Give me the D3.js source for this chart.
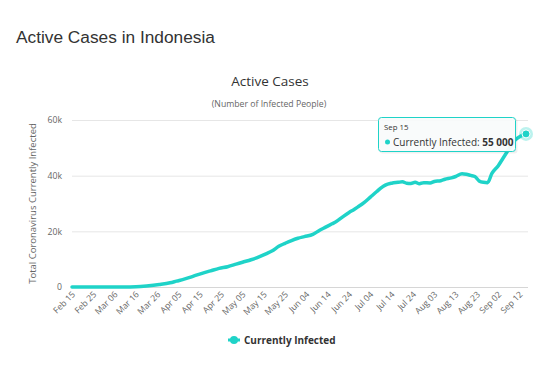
<!DOCTYPE html>
<html>
<head>
<meta charset="utf-8">
<script src="https://cdn.jsdelivr.net/npm/d3@7"></script>
<style>
  body { margin: 0; background: #fff; }
  svg { display: block; }
</style>
</head>
<body>
<div id="chart"></div>
<script>
// active cases
const dates = [
  "2020-02-15", "2020-03-01", "2020-03-10", "2020-03-16", "2020-03-21", "2020-03-27",
  "2020-04-01", "2020-04-04", "2020-04-08", "2020-04-12", "2020-04-16", "2020-04-20",
  "2020-04-24", "2020-04-28", "2020-05-02", "2020-05-05", "2020-05-09", "2020-05-13",
  "2020-05-16", "2020-05-19", "2020-05-22", "2020-05-25", "2020-05-28", "2020-05-31",
  "2020-06-03", "2020-06-07", "2020-06-10", "2020-06-13", "2020-06-16", "2020-06-18",
  "2020-06-21", "2020-06-24", "2020-06-26", "2020-06-28", "2020-07-01", "2020-07-04",
  "2020-07-07", "2020-07-09", "2020-07-11", "2020-07-14", "2020-07-17", "2020-07-19",
  "2020-07-21", "2020-07-23", "2020-07-25", "2020-07-27", "2020-07-29", "2020-08-01",
  "2020-08-03", "2020-08-06", "2020-08-08", "2020-08-11", "2020-08-13", "2020-08-16",
  "2020-08-18", "2020-08-20", "2020-08-22", "2020-08-24", "2020-08-26", "2020-08-28",
  "2020-08-30", "2020-09-02", "2020-09-04", "2020-09-06", "2020-09-08", "2020-09-10",
  "2020-09-12", "2020-09-14", "2020-09-15"
];
const infected = [
  0, 0, 20, 120, 400, 900,
  1500, 2100, 2900, 3900, 4900, 5800,
  6700, 7300, 8200, 8900, 9800, 10900,
  11900, 13000, 14600, 15700, 16700, 17500,
  18100, 18900, 20300, 21500, 22700, 23500,
  25200, 26800, 27700, 28700, 30300, 32300,
  34300, 35600, 36600, 37300, 37600, 37800,
  37300, 37200, 37600, 37100, 37500, 37400,
  37900, 38200, 38700, 39200, 39700, 40700,
  40500, 40100, 39700, 38100, 37600, 37500,
  40800, 43600, 46000, 48400, 50800, 52900,
  54000, 54800, 55000
];
const xTicks = [
  "2020-02-15", "2020-02-25", "2020-03-06", "2020-03-16", "2020-03-26", "2020-04-05",
  "2020-04-15", "2020-04-25", "2020-05-05", "2020-05-15", "2020-05-25", "2020-06-04",
  "2020-06-14", "2020-06-24", "2020-07-04", "2020-07-14", "2020-07-24", "2020-08-03",
  "2020-08-13", "2020-08-23", "2020-09-02", "2020-09-12"
];
const yTicks = [0, 20000, 40000, 60000];

const parse = d3.timeParse("%Y-%m-%d");
const data = dates.map((d, i) => ({ date: parse(d), value: infected[i] }));

const width = 540, height = 372;
const margin = { top: 120, right: 12, bottom: 85, left: 72 };
const color = "#1fd3c8";
const font = "'Open Sans', sans-serif";

const svg = d3.select("#chart").append("svg")
  .attr("width", width)
  .attr("height", height)
  .attr("viewBox", [0, 0, width, height]);

svg.append("rect").attr("width", width).attr("height", height).attr("fill", "#fff");

// page heading
svg.append("text")
  .attr("x", 16).attr("y", 43)
  .attr("font-family", "'Liberation Sans', Arial, sans-serif")
  .attr("font-size", 17.3)
  .attr("fill", "#333")
  .text("Active Cases in Indonesia");

svg.append("text")
  .attr("x", width / 2).attr("y", 86)
  .attr("text-anchor", "middle")
  .attr("font-family", font)
  .attr("font-size", 13.5)
  .attr("fill", "#333")
  .text("Active Cases");

svg.append("text")
  .attr("x", width / 2 - 1).attr("y", 107)
  .attr("text-anchor", "middle")
  .attr("font-family", font)
  .attr("font-size", 8.7)
  .attr("fill", "#666")
  .text("(Number of Infected People)");

const x = d3.scaleTime()
  .domain([parse(dates[0]), parse(dates[dates.length - 1])])
  .range([margin.left, width - margin.right - 2]);

const y = d3.scaleLinear()
  .domain([0, 60000])
  .range([height - margin.bottom, margin.top]);

// y axis + grid
svg.append("g")
  .attr("transform", `translate(${margin.left},0)`)
  .call(d3.axisLeft(y).tickValues(yTicks)
    .tickFormat(d => d === 0 ? "0" : d / 1000 + "k")
    .tickSize(-(width - margin.left - margin.right)))
  .call(g => g.select(".domain").remove())
  .call(g => g.selectAll(".tick line").attr("stroke", "#e6e6e6"))
  .call(g => g.selectAll(".tick text")
    .attr("x", -10)
    .attr("font-family", font)
    .attr("font-size", 8.7)
    .attr("fill", "#666"));

// x axis
svg.append("g")
  .attr("transform", `translate(0,${y(0)})`)
  .call(d3.axisBottom(x).tickValues(xTicks.map(parse))
    .tickFormat(d3.timeFormat("%b %d"))
    .tickSize(0))
  .call(g => g.select(".domain")
    .attr("stroke", "#d6d6d6")
    .attr("d", `M${margin.left},0.5H${width - margin.right}`))
  .call(g => g.selectAll(".tick text")
    .attr("x", 0).attr("y", 0).attr("dy", "0.35em")
    .attr("transform", "translate(1,6) rotate(-45)")
    .style("text-anchor", "end")
    .attr("font-family", font)
    .attr("font-size", 8.6)
    .attr("fill", "#666"));

svg.append("text")
  .attr("transform", `translate(36,${(y(0) + y(60000)) / 2}) rotate(-90)`)
  .attr("text-anchor", "middle")
  .attr("font-family", font)
  .attr("font-size", 9.5)
  .attr("fill", "#666")
  .text("Total Coronavirus Currently Infected");

// series
const line = d3.line()
  .x(d => x(d.date))
  .y(d => y(d.value))
  .curve(d3.curveMonotoneX);

svg.append("path")
  .datum(data)
  .attr("fill", "none")
  .attr("stroke", color)
  .attr("stroke-width", 3.5)
  .attr("stroke-linejoin", "round")
  .attr("stroke-linecap", "round")
  .attr("d", line);

// hovered point
const last = data[data.length - 1];
svg.append("circle")
  .attr("cx", x(last.date)).attr("cy", y(last.value))
  .attr("r", 7).attr("fill", color).attr("fill-opacity", 0.3);
svg.append("circle")
  .attr("cx", x(last.date)).attr("cy", y(last.value))
  .attr("r", 4).attr("fill", color)
  .attr("stroke", "#fff").attr("stroke-width", 1);

// tooltip
const tip = svg.append("g").attr("transform", "translate(378,117)");
tip.append("rect")
  .attr("x", 1.5).attr("y", 1.5)
  .attr("width", 138).attr("height", 35).attr("rx", 3)
  .attr("fill", "#000").attr("fill-opacity", 0.06);
tip.append("rect")
  .attr("x", 0.5).attr("y", 0.5)
  .attr("width", 137).attr("height", 34).attr("rx", 3)
  .attr("fill", "#f9fbfb").attr("fill-opacity", 0.95)
  .attr("stroke", color).attr("stroke-width", 1);
tip.append("text")
  .attr("x", 6).attr("y", 13)
  .attr("font-family", font).attr("font-size", 7.8).attr("fill", "#333")
  .text(d3.timeFormat("%b %d")(last.date));
tip.append("circle").attr("cx", 9.5).attr("cy", 25).attr("r", 2.5).attr("fill", color);
const tipText = tip.append("text")
  .attr("x", 15).attr("y", 28.5)
  .attr("font-family", font).attr("font-size", 10).attr("fill", "#333");
tipText.append("tspan").text("Currently Infected: ");
tipText.append("tspan").attr("font-weight", "bold")
  .text(d3.format(",")(last.value).replace(/,/g, " "));

// legend
const legend = svg.append("g").attr("transform", "translate(228,340)");
legend.append("line")
  .attr("x1", 0).attr("x2", 12)
  .attr("stroke", color).attr("stroke-width", 3);
legend.append("circle").attr("cx", 6).attr("r", 4).attr("fill", color);
legend.append("text")
  .attr("x", 16).attr("y", 3.5)
  .attr("font-family", font).attr("font-size", 10)
  .attr("font-weight", "bold").attr("fill", "#333")
  .text("Currently Infected");
</script>
</body>
</html>
